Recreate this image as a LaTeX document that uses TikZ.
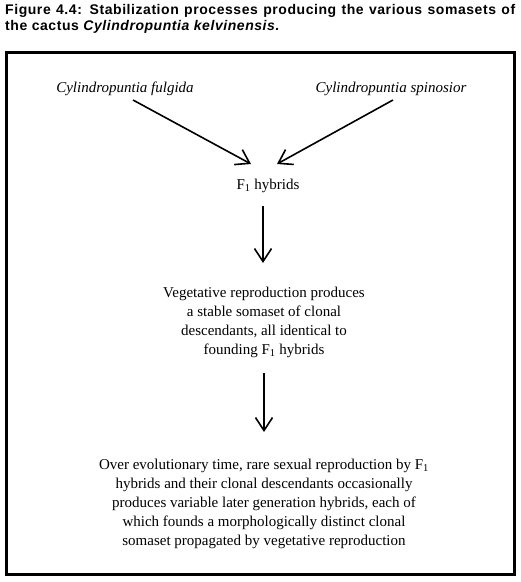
\documentclass[tikz,border=0pt]{standalone}
\usepackage{fontspec}
\setmainfont{Liberation Serif}
\newfontfamily\titlefont[LetterSpace=4]{Liberation Sans}
\usetikzlibrary{arrows.meta}
\begin{document}
\begin{tikzpicture}[x=1pt,y=-1pt,
  body/.style={font=\fontsize{15}{19}\selectfont, align=center, inner sep=0pt},
  species/.style={body, font=\itshape\fontsize{15}{19}\selectfont},
  flow/.style={line width=1.6pt, -{Straight Barb[length=13pt,width=17pt,line width=1.6pt]}}]
\useasboundingbox (0,0) rectangle (521,582);
\node[anchor=north west, inner sep=0pt, text width=510pt, align=justify,
      font=\titlefont\bfseries\fontsize{14}{16.5}\selectfont] (title) at (5,4)
  {Figure 4.4: Stabilization processes producing the various somasets of the cactus \textit{Cylindropuntia kelvinensis.}};
\draw[line width=3pt] (6.5,52) rectangle (514.5,574);
\node[species] (fulgida) at (125,89) {Cylindropuntia fulgida};
\node[species] (spinosior) at (391,89) {Cylindropuntia spinosior};
\node[body] (f1) at (268,186) {F\textsubscript{1} hybrids};
\node[body] (veg) at (264,322.5) {Vegetative reproduction produces\\a stable somaset of clonal\\descendants, all identical to\\founding F\textsubscript{1} hybrids};
\node[body] (over) at (264,504) {Over evolutionary time, rare sexual reproduction by F\textsubscript{1}\\hybrids and their clonal descendants occasionally\\produces variable later generation hybrids, each of\\which founds a morphologically distinct clonal\\somaset propagated by vegetative reproduction};
\coordinate (a1s) at (133,100); \coordinate (a1e) at (251,164);
\coordinate (a2s) at (393,100); \coordinate (a2e) at (277,164);
\coordinate (a3s) at (263,206); \coordinate (a3e) at (263,263);
\coordinate (a4s) at (264,373); \coordinate (a4e) at (264,432);
\draw[flow] (a1s) -- (a1e);
\draw[flow] (a2s) -- (a2e);
\draw[flow] (a3s) -- (a3e);
\draw[flow] (a4s) -- (a4e);
\end{tikzpicture}
\end{document}
